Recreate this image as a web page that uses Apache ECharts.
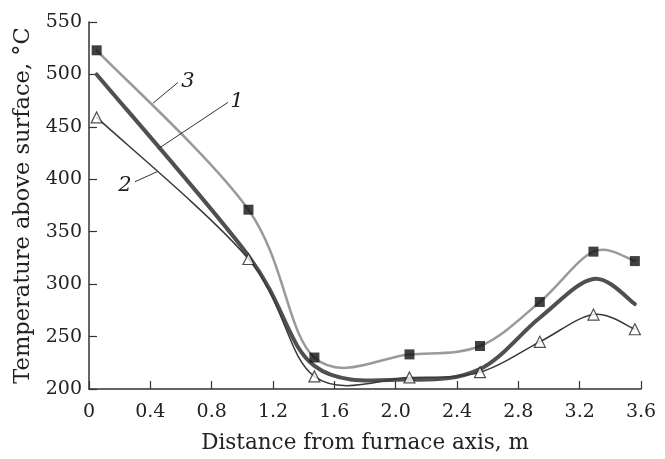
<!DOCTYPE html>
<html><head><meta charset="utf-8">
<script src="https://cdn.jsdelivr.net/npm/echarts@6/dist/echarts.min.js"></script>
<style>html,body{margin:0;padding:0;background:#fff}#c{width:665px;height:459px}</style>
</head><body><div id="c"></div>
<script>
// Distance from furnace axis, m (measurement positions)
const distances = [0.05, 1.04, 1.47, 2.09, 2.55, 2.94, 3.29, 3.56];
// Temperature above surface, °C
const curve1 = [500, 327, 222, 209, 219, 268, 305, 281];   // thick line, no markers
const curve2 = [459, 324, 212, 211, 216, 245, 271, 257];   // open triangles
const curve3 = [523, 371, 230, 233, 241, 283, 331, 322];   // filled squares

// Curve labels: [text, leader start, leader end, text anchor] in data units
const curveLabels = [
  ['3', [0.417, 472.5], [0.58, 492.3], [0.646, 493]],
  ['1', [0.45, 429], [0.907, 473.4], [0.965, 474.4]],
  ['2', [0.444, 407.2], [0.30, 397.7], [0.235, 394]]
];

const xTitle = 'Distance from furnace axis, m';
const yTitle = 'Temperature above surface, °C';

const zip = (xs, ys) => xs.map((x, i) => [x, ys[i]]);
const FONT = 'DejaVu Serif';

// smoothed line (Catmull-Rom style Bezier) drawn through the axis scales
function smoothSeries(ys, color, width, z) {
  return {
    type: 'custom', coordinateSystem: 'cartesian2d', z: z, silent: true,
    data: [[distances[0], ys[0]]],
    renderItem: function (params, api) {
      const p = distances.map((x, i) => api.coord([x, ys[i]]));
      const n = p.length;
      let d = 'M' + p[0][0] + ' ' + p[0][1];
      for (let i = 0; i < n - 1; i++) {
        const p0 = p[Math.max(i - 1, 0)], p1 = p[i], p2 = p[i + 1], p3 = p[Math.min(i + 2, n - 1)];
        const c1x = p1[0] + (p2[0] - p0[0]) / 6, c1y = p1[1] + (p2[1] - p0[1]) / 6;
        const c2x = p2[0] - (p3[0] - p1[0]) / 6, c2y = p2[1] - (p3[1] - p1[1]) / 6;
        d += ' C' + c1x + ' ' + c1y + ' ' + c2x + ' ' + c2y + ' ' + p2[0] + ' ' + p2[1];
      }
      return {type: 'path', shape: {pathData: d},
        style: {fill: null, stroke: color, lineWidth: width, lineCap: 'round', lineJoin: 'round'}};
    }
  };
}

const chart = echarts.init(document.getElementById('c'), null, {renderer: 'canvas'});
const axisCommon = {
  axisLine: {show: true, lineStyle: {color: '#333', width: 1.5}},
  axisTick: {show: true, inside: true, length: 8, lineStyle: {color: '#333', width: 1.2}},
  splitLine: {show: false},
  nameLocation: 'middle',
};
chart.setOption({
  animation: false,
  backgroundColor: '#fff',
  grid: {left: 89, right: 24, top: 22, bottom: 67, containLabel: false},
  xAxis: Object.assign({}, axisCommon, {
    type: 'value', min: 0, max: 3.6, interval: 0.4,
    name: xTitle, nameGap: 43,
    nameTextStyle: {fontFamily: FONT, fontSize: 21.5, color: '#222'},
    axisLabel: {fontFamily: FONT, fontSize: 19, color: '#222', margin: 14,
      formatter: v => v === 0 ? '0' : v.toFixed(1)}
  }),
  yAxis: Object.assign({}, axisCommon, {
    type: 'value', min: 200, max: 550, interval: 50,
    name: yTitle, nameGap: 54,
    nameTextStyle: {fontFamily: FONT, fontSize: 22.5, color: '#222'},
    axisLabel: {fontFamily: FONT, fontSize: 19, color: '#222', margin: 7}
  }),
  series: [
    smoothSeries(curve3, '#9a9a9a', 2.5, 2),
    smoothSeries(curve1, '#505050', 4, 3),
    smoothSeries(curve2, '#3a3a3a', 1.5, 4),
    {type: 'scatter', data: zip(distances, curve3), symbol: 'rect', symbolSize: 10,
     itemStyle: {color: '#111'}, z: 6},
    {type: 'scatter', data: zip(distances, curve2), symbol: 'triangle', symbolSize: 11,
     itemStyle: {color: '#fff', borderColor: '#222', borderWidth: 1.2}, z: 6}
  ]
});
const toPx = p => chart.convertToPixel({gridIndex: 0}, p);
const g = [];
curveLabels.forEach(([t, a, b, tp]) => {
  const pa = toPx(a), pb = toPx(b), pt = toPx(tp);
  g.push({type: 'line', shape: {x1: pa[0], y1: pa[1], x2: pb[0], y2: pb[1]},
    style: {stroke: '#333', lineWidth: 1}, z: 10});
  g.push({type: 'text', x: pt[0], y: pt[1], z: 10,
    style: {text: t, font: 'italic 21px "DejaVu Serif"', fill: '#222',
      textAlign: 'center', textVerticalAlign: 'middle'}});
});
chart.setOption({graphic: g});
</script></body></html>
